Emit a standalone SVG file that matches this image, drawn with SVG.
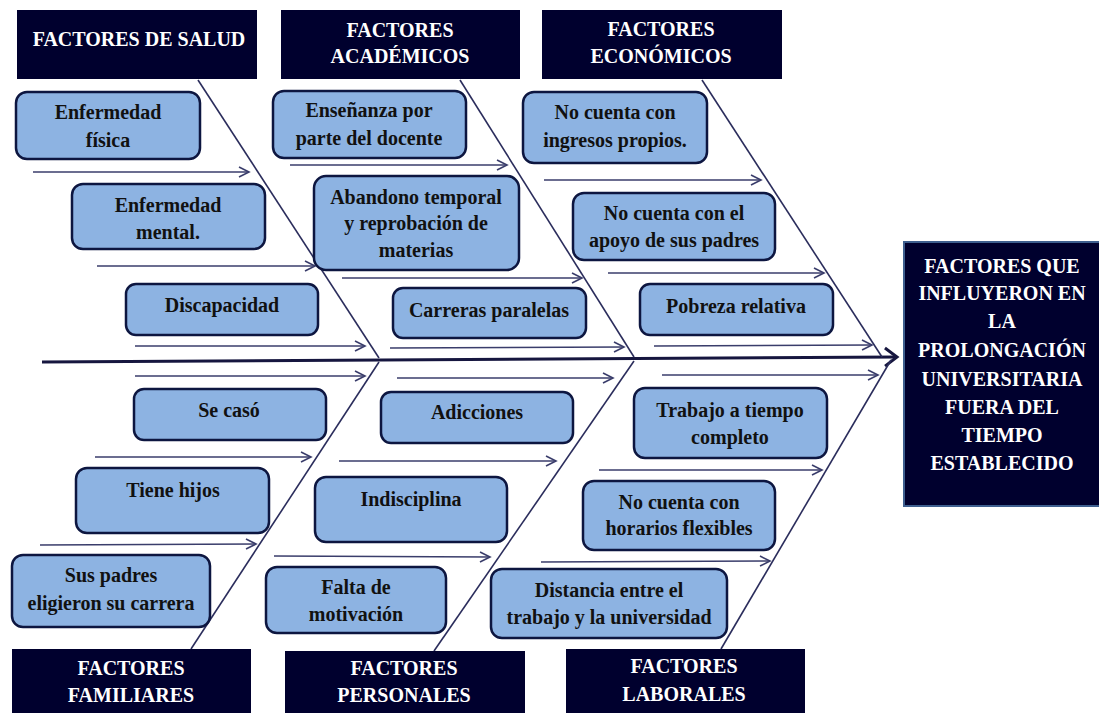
<svg xmlns="http://www.w3.org/2000/svg" width="1099" height="713" viewBox="0 0 1099 713">
<defs>
<style>
.hdr{fill:#00002E;}
.cause{fill:#8DB3E2;stroke:#0D1640;stroke-width:2.5;}
.ht{font-family:"Liberation Serif","Times New Roman",serif;font-weight:bold;font-size:20px;fill:#FFFFFF;text-anchor:middle;}
.ct{font-family:"Liberation Serif","Times New Roman",serif;font-weight:bold;font-size:20px;fill:#111111;text-anchor:middle;}
.bone{stroke:#2B2D5C;stroke-width:1.6;fill:none;}
.arr{stroke:#3A3D6B;stroke-width:1.6;fill:none;marker-end:url(#ah);}
.spine{stroke:#16163F;stroke-width:3;fill:none;marker-end:url(#sh);}
</style>
<marker id="ah" markerUnits="userSpaceOnUse" markerWidth="14" markerHeight="14" refX="11" refY="6" orient="auto">
<path d="M1,1 L11,6 L1,11" fill="none" stroke="#3A3D6B" stroke-width="1.6"/>
</marker>
<marker id="sh" markerUnits="userSpaceOnUse" markerWidth="18" markerHeight="22" refX="14" refY="11" orient="auto">
<path d="M2,2 L14,11 L2,20" fill="none" stroke="#16163F" stroke-width="3"/>
</marker>
</defs>
<rect width="1099" height="713" fill="#FFFFFF"/>

<g id="connectors">
<line class="spine" x1="42" y1="362" x2="897" y2="357"/>
<line class="bone" x1="198" y1="80" x2="379" y2="358"/>
<line class="bone" x1="460" y1="80" x2="634" y2="357"/>
<line class="bone" x1="702" y1="80" x2="882" y2="357"/>
<line class="bone" x1="379" y1="362" x2="191" y2="649"/>
<line class="bone" x1="634" y1="361" x2="434" y2="651"/>
<line class="bone" x1="891" y1="360" x2="721" y2="649"/>
<line class="arr" x1="33" y1="172" x2="249" y2="172"/>
<line class="arr" x1="97" y1="266" x2="315" y2="266"/>
<line class="arr" x1="135" y1="346" x2="365" y2="346"/>
<line class="arr" x1="290" y1="165" x2="507" y2="165"/>
<line class="arr" x1="342" y1="278" x2="582" y2="278"/>
<line class="arr" x1="390" y1="348" x2="624" y2="347"/>
<line class="arr" x1="544" y1="180" x2="761" y2="180"/>
<line class="arr" x1="608" y1="273" x2="824" y2="273"/>
<line class="arr" x1="654" y1="346" x2="872" y2="345"/>
<line class="arr" x1="135" y1="376" x2="365" y2="376"/>
<line class="arr" x1="95" y1="457" x2="311" y2="457"/>
<line class="arr" x1="40" y1="545" x2="256" y2="544"/>
<line class="arr" x1="397" y1="378" x2="613" y2="378"/>
<line class="arr" x1="339" y1="461" x2="556" y2="461"/>
<line class="arr" x1="274" y1="556" x2="490" y2="557"/>
<line class="arr" x1="662" y1="375" x2="878" y2="375"/>
<line class="arr" x1="599" y1="470" x2="822" y2="470"/>
<line class="arr" x1="541" y1="562" x2="770" y2="561"/>
</g>

<g id="h-salud"><rect class="hdr" x="17" y="10" width="240" height="69"/><text class="ht" x="139" y="46">FACTORES DE SALUD</text></g>
<g id="h-academicos"><rect class="hdr" x="281" y="10" width="239" height="69"/><text class="ht" x="400" y="37">FACTORES</text><text class="ht" x="400" y="63">ACADÉMICOS</text></g>
<g id="h-economicos"><rect class="hdr" x="542" y="10" width="240" height="69"/><text class="ht" x="661" y="36">FACTORES</text><text class="ht" x="661" y="63">ECONÓMICOS</text></g>
<g id="h-familiares"><rect class="hdr" x="12" y="649" width="239" height="64"/><text class="ht" x="131" y="675">FACTORES</text><text class="ht" x="131" y="702">FAMILIARES</text></g>
<g id="h-personales"><rect class="hdr" x="285" y="651" width="240" height="62"/><text class="ht" x="404" y="675">FACTORES</text><text class="ht" x="404" y="702">PERSONALES</text></g>
<g id="h-laborales"><rect class="hdr" x="566" y="649" width="239" height="64"/><text class="ht" x="684" y="673">FACTORES</text><text class="ht" x="684" y="701">LABORALES</text></g>

<g id="effect"><rect x="904" y="242" width="198" height="264" fill="#00002E" stroke="#3E5F8F" stroke-width="2"/>
<text class="ht" x="1002" y="273">FACTORES QUE</text>
<text class="ht" x="1002" y="300">INFLUYERON EN</text>
<text class="ht" x="1002" y="328">LA</text>
<text class="ht" x="1002" y="357">PROLONGACIÓN</text>
<text class="ht" x="1002" y="386">UNIVERSITARIA</text>
<text class="ht" x="1002" y="414">FUERA DEL</text>
<text class="ht" x="1002" y="442">TIEMPO</text>
<text class="ht" x="1002" y="470">ESTABLECIDO</text>
</g>

<g id="c-enf-fisica"><rect class="cause" x="16" y="92" width="184" height="67" rx="11"/><text class="ct" x="108" y="119">Enfermedad</text><text class="ct" x="108" y="147">física</text></g>
<g id="c-enf-mental"><rect class="cause" x="72" y="184" width="193" height="65" rx="11"/><text class="ct" x="168" y="212">Enfermedad</text><text class="ct" x="168" y="239">mental.</text></g>
<g id="c-discapacidad"><rect class="cause" x="126" y="284" width="192" height="51" rx="10"/><text class="ct" x="222" y="312">Discapacidad</text></g>

<g id="c-ensenanza"><rect class="cause" x="273" y="91" width="193" height="67" rx="11"/><text class="ct" x="369" y="117">Enseñanza por</text><text class="ct" x="369" y="145">parte del docente</text></g>
<g id="c-abandono"><rect class="cause" x="314" y="176" width="205" height="94" rx="12"/><text class="ct" x="416" y="204">Abandono temporal</text><text class="ct" x="416" y="230">y reprobación de</text><text class="ct" x="416" y="257">materias</text></g>
<g id="c-carreras"><rect class="cause" x="393" y="288" width="193" height="50" rx="10"/><text class="ct" x="489" y="317">Carreras paralelas</text></g>

<g id="c-ingresos"><rect class="cause" x="523" y="92" width="184" height="71" rx="11"/><text class="ct" x="615" y="119">No cuenta con</text><text class="ct" x="615" y="147">ingresos propios.</text></g>
<g id="c-apoyo"><rect class="cause" x="573" y="193" width="202" height="67" rx="11"/><text class="ct" x="674" y="220">No cuenta con el</text><text class="ct" x="674" y="247">apoyo de sus padres</text></g>
<g id="c-pobreza"><rect class="cause" x="640" y="284" width="193" height="51" rx="10"/><text class="ct" x="736" y="313">Pobreza relativa</text></g>

<g id="c-se-caso"><rect class="cause" x="134" y="389" width="192" height="51" rx="10"/><text class="ct" x="229" y="417">Se casó</text></g>
<g id="c-hijos"><rect class="cause" x="76" y="468" width="193" height="65" rx="11"/><text class="ct" x="173" y="497">Tiene hijos</text></g>
<g id="c-padres-carrera"><rect class="cause" x="12" y="555" width="198" height="72" rx="11"/><text class="ct" x="111" y="582">Sus padres</text><text class="ct" x="111" y="610">eligieron su carrera</text></g>

<g id="c-adicciones"><rect class="cause" x="381" y="392" width="192" height="51" rx="10"/><text class="ct" x="477" y="419">Adicciones</text></g>
<g id="c-indisciplina"><rect class="cause" x="315" y="477" width="192" height="65" rx="11"/><text class="ct" x="411" y="506">Indisciplina</text></g>
<g id="c-motivacion"><rect class="cause" x="266" y="567" width="180" height="66" rx="11"/><text class="ct" x="356" y="594">Falta de</text><text class="ct" x="356" y="621">motivación</text></g>

<g id="c-trabajo"><rect class="cause" x="634" y="388" width="193" height="70" rx="11"/><text class="ct" x="730" y="417">Trabajo a tiempo</text><text class="ct" x="730" y="444">completo</text></g>
<g id="c-horarios"><rect class="cause" x="583" y="481" width="192" height="69" rx="11"/><text class="ct" x="679" y="509">No cuenta con</text><text class="ct" x="679" y="535">horarios flexibles</text></g>
<g id="c-distancia"><rect class="cause" x="491" y="569" width="236" height="69" rx="11"/><text class="ct" x="609" y="597">Distancia entre el</text><text class="ct" x="609" y="624">trabajo y la universidad</text></g>
</svg>
